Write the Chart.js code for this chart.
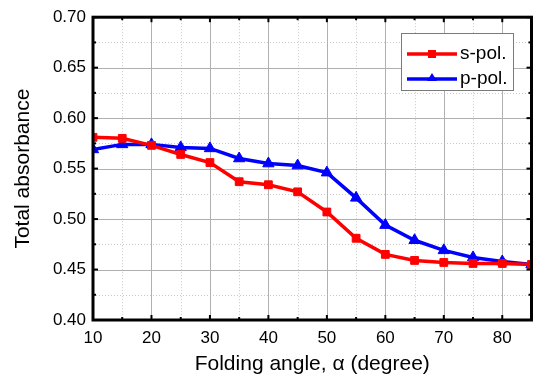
<!DOCTYPE html>
<html>
<head>
<meta charset="utf-8">
<script src="https://cdn.jsdelivr.net/npm/chart.js@4/dist/chart.umd.min.js"></script>
<style>
html,body{margin:0;padding:0;background:#fff;}
#wrap{width:539px;height:378px;position:relative;}
</style>
</head>
<body>
<div id="wrap"><canvas id="c" width="539" height="378"></canvas></div>
<script>
const angles = [10,15,20,25,30,35,40,45,50,55,60,65,70,75,80,85];
const sPol = [0.581,0.580,0.573,0.564,0.556,0.537,0.534,0.527,0.507,0.481,0.465,0.459,0.457,0.456,0.456,0.455];
const pPol = [0.569,0.574,0.574,0.571,0.570,0.560,0.555,0.553,0.546,0.521,0.494,0.479,0.469,0.462,0.458,0.455];
const xTicks = [10,20,30,40,50,60,70,80];
const xMinor = [15,25,35,45,55,65,75];
const yTicks = [0.40,0.45,0.50,0.55,0.60,0.65,0.70];
const yMinor = [0.425,0.475,0.525,0.575,0.625,0.675];
const seriesNames = ['s-pol.','p-pol.'];
const FONT = '"Liberation Sans", Arial, sans-serif';

const framePlugin = {
  id:'frame',
  beforeDatasetsDraw(chart){
    const {ctx, chartArea:a, scales:{x,y}} = chart;
    ctx.save();
    ctx.lineWidth = 1;
    ctx.strokeStyle = '#c8c8c8';
    ctx.setLineDash([1,2]);
    xMinor.forEach(v=>{const px=Math.round(x.getPixelForValue(v))+0.5;ctx.beginPath();ctx.moveTo(px,a.top);ctx.lineTo(px,a.bottom);ctx.stroke();});
    yMinor.forEach(v=>{const py=Math.round(y.getPixelForValue(v))+0.5;ctx.beginPath();ctx.moveTo(a.left,py);ctx.lineTo(a.right,py);ctx.stroke();});
    ctx.setLineDash([]);
    ctx.strokeStyle = '#b0b0b0';
    xTicks.forEach(v=>{const px=Math.round(x.getPixelForValue(v))+0.5;ctx.beginPath();ctx.moveTo(px,a.top);ctx.lineTo(px,a.bottom);ctx.stroke();});
    yTicks.forEach(v=>{const py=Math.round(y.getPixelForValue(v))+0.5;ctx.beginPath();ctx.moveTo(a.left,py);ctx.lineTo(a.right,py);ctx.stroke();});
    ctx.restore();
  },
  afterDatasetsDraw(chart){
    const {ctx, chartArea:a, scales:{x,y}} = chart;
    ctx.save();
    ctx.strokeStyle = '#000';
    ctx.lineWidth = 2;
    const tk = (px,py,dx,dy)=>{ctx.beginPath();ctx.moveTo(px,py);ctx.lineTo(px+dx,py+dy);ctx.stroke();};
    xTicks.forEach(v=>{const px=x.getPixelForValue(v);tk(px,a.bottom,0,-5);tk(px,a.top,0,5);});
    xMinor.forEach(v=>{const px=x.getPixelForValue(v);tk(px,a.bottom,0,-3);tk(px,a.top,0,3);});
    yTicks.forEach(v=>{const py=y.getPixelForValue(v);tk(a.left,py,5,0);tk(a.right,py,-5,0);});
    yMinor.forEach(v=>{const py=y.getPixelForValue(v);tk(a.left,py,3,0);tk(a.right,py,-3,0);});
    ctx.lineWidth = 3;
    ctx.strokeRect(a.left, a.top, a.right-a.left, a.bottom-a.top);
    const lx=401.5, ly=33.5, lw=112, lh=57;
    ctx.fillStyle='#fff';
    ctx.fillRect(lx,ly,lw,lh);
    ctx.lineWidth=1;
    ctx.strokeStyle='#7a7a7a';
    ctx.strokeRect(lx,ly,lw,lh);
    chart.data.datasets.forEach((ds,i)=>{
      const yy = 54 + i*25;
      ctx.strokeStyle = ds.borderColor;
      ctx.lineWidth = 3.5;
      ctx.beginPath();ctx.moveTo(407,yy);ctx.lineTo(457,yy);ctx.stroke();
      ctx.fillStyle = ds.borderColor;
      if(ds.pointStyle==='rect'){ctx.fillRect(428,yy-4,8,8);}
      else{ctx.beginPath();ctx.moveTo(432,yy-6);ctx.lineTo(437,yy+2);ctx.lineTo(427,yy+2);ctx.closePath();ctx.fill();}
      ctx.fillStyle='#000';
      ctx.font = '19px '+FONT;
      ctx.textBaseline='middle';
      ctx.textAlign='left';
      ctx.fillText(ds.label, 460, yy);
    });
    ctx.restore();
  }
};

new Chart(document.getElementById('c'), {
  type:'line',
  data:{
    datasets:[
      {label:seriesNames[0], data:angles.map((a,i)=>({x:a,y:sPol[i]})), borderColor:'#ff0000', backgroundColor:'#ff0000', borderWidth:3.5, pointStyle:'rect', pointRadius:5.5, pointBorderWidth:1, tension:0},
      {label:seriesNames[1], data:angles.map((a,i)=>({x:a,y:pPol[i]})), borderColor:'#0000ff', backgroundColor:'#0000ff', borderWidth:3.5, pointStyle:'triangle', pointRadius:6.5, pointBorderWidth:1, tension:0}
    ]
  },
  options:{
    responsive:false,
    animation:false,
    devicePixelRatio:1,
    layout:{padding:{left:0,right:2,top:16,bottom:0}},
    plugins:{legend:{display:false}, tooltip:{enabled:false}},
    scales:{
      x:{type:'linear', min:10, max:85,
        afterBuildTicks(s){s.ticks = xTicks.map(v=>({value:v}));},
        afterFit(s){s.height = 58;},
        grid:{display:false, drawTicks:false}, border:{display:false},
        ticks:{color:'#000', padding:8, maxRotation:0, autoSkip:false, font:{family:FONT, size:17}},
        title:{display:true, text:'Folding angle, α (degree)', color:'#000', font:{family:FONT, size:21}, padding:{top:0,bottom:1}}
      },
      y:{type:'linear', min:0.40, max:0.70,
        afterBuildTicks(s){s.ticks = yTicks.map(v=>({value:v}));},
        afterFit(s){s.width = 93;},
        grid:{display:false, drawTicks:false}, border:{display:false},
        ticks:{color:'#000', padding:7, autoSkip:false, font:{family:FONT, size:17}, callback:v=>v.toFixed(2)},
        title:{display:true, text:'Total absorbance', color:'#000', font:{family:FONT, size:21}, padding:{top:11,bottom:0}}
      }
    }
  },
  plugins:[framePlugin]
});
</script>
</body>
</html>
